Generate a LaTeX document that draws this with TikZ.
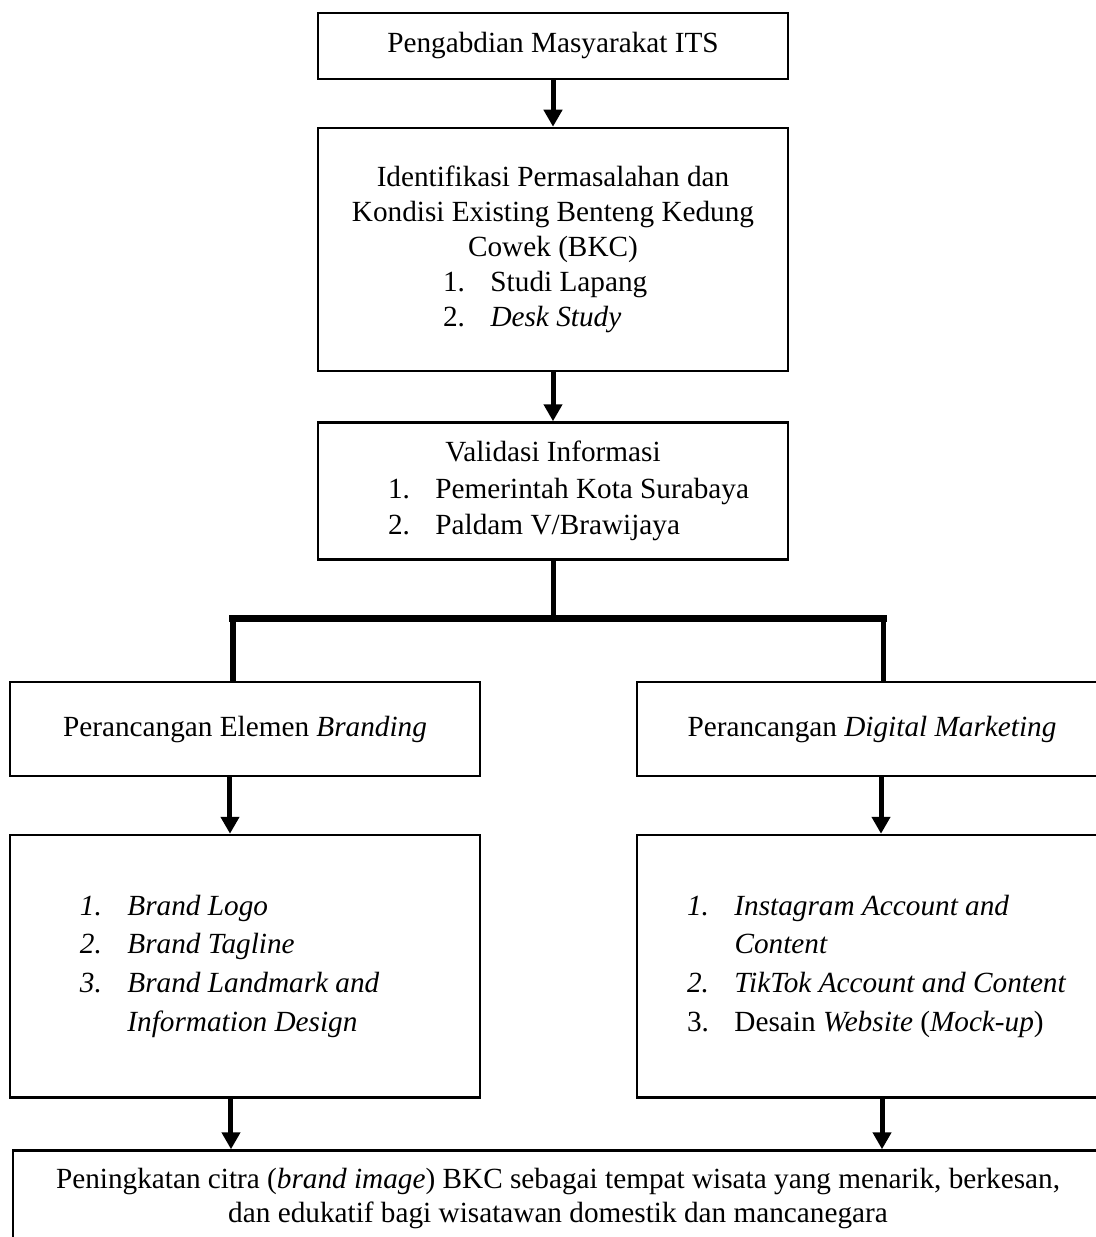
\documentclass[tikz,border=0pt]{standalone}
\usepackage{fontspec}
\setmainfont{Liberation Serif}
\usetikzlibrary{arrows.meta,calc,positioning}

\newcommand{\numitem}[3]{\makebox[#1][l]{\makebox[19pt][l]{#2}#3}}

\begin{document}
\begin{tikzpicture}[x=0.4pt,y=-0.4pt,
  box/.style={draw, line width=1pt, minimum width=188pt, align=center, inner sep=2pt,
    font=\fontsize{11.7pt}{14pt}\selectfont},
  arr/.style={line width=2pt, -{Triangle[length=6.8pt,width=7.2pt]}},
  stem/.style={line width=2pt},
  bar/.style={line width=2.8pt, line cap=rect}]
  \useasboundingbox (0,0) rectangle (1095,1237);

  \node [box, minimum height=26.4pt] (A) at (553,46) {Pengabdian Masyarakat ITS};

  \node [box, minimum height=97.2pt, below=18.6pt of A] (B) {Identifikasi Permasalahan dan\\
    Kondisi Existing Benteng Kedung\\
    Cowek (BKC)\\
    \numitem{88pt}{1.}{Studi Lapang}\\
    \numitem{88pt}{2.}{\textit{Desk Study}}};

  \node [box, minimum height=54.8pt, below=19.6pt of B,
    font=\fontsize{11.7pt}{14.6pt}\selectfont] (C) {Validasi Informasi\\
    \numitem{132pt}{1.}{Pemerintah Kota Surabaya}\\
    \numitem{132pt}{2.}{Paldam V/Brawijaya}};

  \node [box, minimum height=37.6pt, below=48pt of C, xshift=-123.2pt] (D) {Perancangan Elemen \textit{Branding}};
  \node [box, minimum height=37.6pt, below=48pt of C, xshift=127.6pt] (E) {Perancangan \textit{Digital Marketing}};

  \node [box, minimum height=105pt, below=22.6pt of D,
    font=\fontsize{11.7pt}{15.5pt}\selectfont] (F) {\numitem{132pt}{\textit{1.}}{\textit{Brand Logo}}\\
    \numitem{132pt}{\textit{2.}}{\textit{Brand Tagline}}\\
    \numitem{132pt}{\textit{3.}}{\textit{Brand Landmark and}}\\
    \numitem{132pt}{}{\textit{Information Design}}};

  \node [box, minimum height=105pt, below=22.6pt of E,
    font=\fontsize{11.7pt}{15.5pt}\selectfont] (H) {\numitem{148pt}{\textit{1.}}{\textit{Instagram Account and}}\\
    \numitem{148pt}{}{\textit{Content}}\\
    \numitem{148pt}{\textit{2.}}{\textit{TikTok Account and Content}}\\
    \numitem{148pt}{3.}{Desain \textit{Website} (\textit{Mock-up})}};

  \node [box, minimum width=436pt, minimum height=38.4pt, below=20.2pt of F, xshift=125.2pt,
    font=\fontsize{11.7pt}{13.8pt}\selectfont] (G) {Peningkatan citra (\textit{brand image}) BKC sebagai tempat wisata yang menarik, berkesan,\\
    dan edukatif bagi wisatawan domestik dan mancanegara};

  \coordinate (split) at ($(C.south)+(0,-23.2pt)$);
  \coordinate (dtop) at ($(D.north)+(-4.8pt,0)$);
  \coordinate (etop) at ($(E.north)+(4.4pt,0)$);

  \draw [arr] (A) -- (B);
  \draw [arr] (B) -- (C);
  \draw [stem] (C) -- (split);
  \draw [stem] (split -| dtop) -- (dtop);
  \draw [stem] (split -| etop) -- (etop);
  \draw [bar] (split -| dtop) -- (split -| etop);
  \draw [arr] ([xshift=-6pt]D.south) -- ([xshift=-6pt]F.north);
  \draw [arr] ([xshift=3.6pt]E.south) -- ([xshift=3.6pt]H.north);
  \draw [arr] ([xshift=-5.6pt]F.south) -- ([xshift=-5.6pt]F.south |- G.north);
  \draw [arr] ([xshift=4pt]H.south) -- ([xshift=4pt]H.south |- G.north);
\end{tikzpicture}
\end{document}
